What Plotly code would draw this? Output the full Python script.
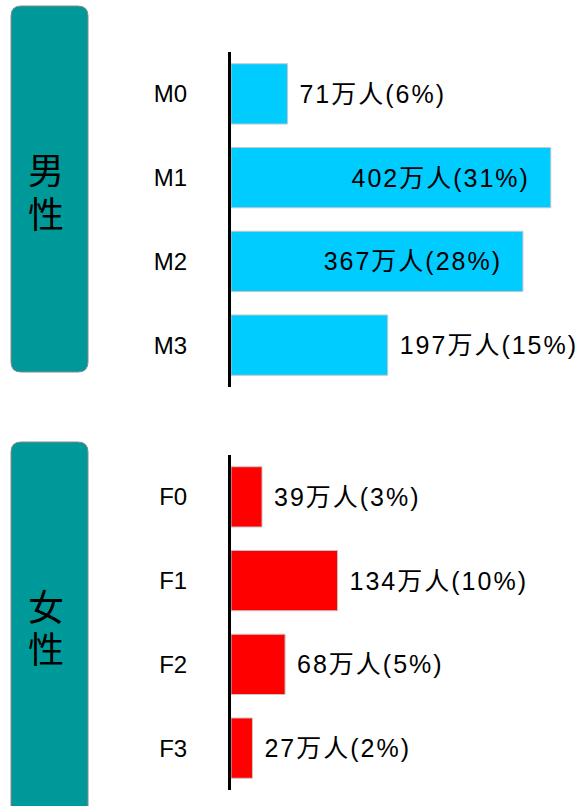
import plotly.graph_objects as go

male_cats = ["M0", "M1", "M2", "M3"]
male_vals = [71, 402, 367, 197]
male_pcts = [6, 31, 28, 15]
female_cats = ["F0", "F1", "F2", "F3"]
female_vals = [39, 134, 68, 27]
female_pcts = [3, 10, 5, 2]
group_labels = ["男性", "女性"]

W, H = 585, 806


def px(x):
    return x / W


def py(y):
    return 1 - y / H


LABEL_FONT = dict(family="Liberation Sans, Arial, Noto Sans CJK SC", size=25, color="black")
TICK_FONT = dict(family="Liberation Sans, Arial", size=24, color="black")
INSIDE_MIN = 300  # bars long enough to hold their label inside
SPAN = '<span style="letter-spacing:2px">{}</span>'


def templates(vals):
    out = []
    for v in vals:
        if v >= INSIDE_MIN:
            out.append(SPAN.format("%{x}万人(%{customdata}%)\u00a0\u00a0"))
        else:
            out.append(SPAN.format("\u00a0%{x}万人(%{customdata}%)"))
    return out


def positions(vals):
    return ["inside" if v >= INSIDE_MIN else "outside" for v in vals]


fig = go.Figure()
fig.add_trace(go.Bar(
    y=male_cats, x=male_vals, customdata=male_pcts, orientation="h",
    texttemplate=templates(male_vals), textposition=positions(male_vals),
    constraintext="none", cliponaxis=False, insidetextanchor="end",
    insidetextfont=LABEL_FONT, outsidetextfont=LABEL_FONT,
    marker=dict(color="#00CCFF", line=dict(color="#C8C8C8", width=1)),
    width=0.72, xaxis="x", yaxis="y", hoverinfo="skip",
))
fig.add_trace(go.Bar(
    y=female_cats, x=female_vals, customdata=female_pcts, orientation="h",
    texttemplate=templates(female_vals), textposition=positions(female_vals),
    constraintext="none", cliponaxis=False, insidetextanchor="end",
    insidetextfont=LABEL_FONT, outsidetextfont=LABEL_FONT,
    marker=dict(color="#FF0000", line=dict(color="#C8C8C8", width=1)),
    width=0.72, xaxis="x2", yaxis="y2", hoverinfo="skip",
))

xdom = [px(231), 1.0]
xrange = [0, 445]
yaxis_common = dict(
    autorange="reversed", showline=True, linecolor="black", linewidth=3,
    ticks="", showgrid=False, zeroline=False, tickfont=TICK_FONT,
    ticklabelstandoff=36,
)


def rounded_box(x0, y0, x1, y1, r=10):
    X0, X1 = px(x0), px(x1)
    Y0, Y1 = py(y0), py(y1)
    rx, ry = r / W, r / H
    return (f"M {X0+rx},{Y0} L {X1-rx},{Y0} Q {X1},{Y0} {X1},{Y0-ry} "
            f"L {X1},{Y1+ry} Q {X1},{Y1} {X1-rx},{Y1} L {X0+rx},{Y1} "
            f"Q {X0},{Y1} {X0},{Y1+ry} L {X0},{Y0-ry} Q {X0},{Y0} {X0+rx},{Y0} Z")


shapes = [
    dict(type="path", xref="paper", yref="paper", path=rounded_box(11, 6, 88, 372),
         fillcolor="#009999", line=dict(color="#8A8A8A", width=1), layer="below"),
    dict(type="path", xref="paper", yref="paper", path=rounded_box(11, 442, 88, 830),
         fillcolor="#009999", line=dict(color="#8A8A8A", width=1), layer="below"),
]

CJK = dict(family="Noto Sans CJK SC", size=36, color="black")
char_pos = [(group_labels[0][0], 168), (group_labels[0][1], 212),
            (group_labels[1][0], 605), (group_labels[1][1], 647)]
annotations = [
    dict(text=ch, x=px(45.5), y=py(yc), xref="paper", yref="paper", showarrow=False,
         font=CJK, xanchor="center", yanchor="middle", borderpad=0)
    for ch, yc in char_pos
]

fig.update_layout(
    width=W, height=H, margin=dict(l=0, r=0, t=0, b=0),
    paper_bgcolor="white", plot_bgcolor="white", showlegend=False,
    xaxis=dict(domain=xdom, range=xrange, visible=False, anchor="y"),
    yaxis=dict(domain=[py(387), py(52)], anchor="x", **yaxis_common),
    xaxis2=dict(domain=xdom, range=xrange, visible=False, anchor="y2"),
    yaxis2=dict(domain=[py(790), py(455)], anchor="x2", **yaxis_common),
    shapes=shapes, annotations=annotations,
)

fig.write_html(
    "out.html",
    config={"displayModeBar": False},
    post_script="document.body.style.margin='0';document.body.style.overflow='hidden';",
)
